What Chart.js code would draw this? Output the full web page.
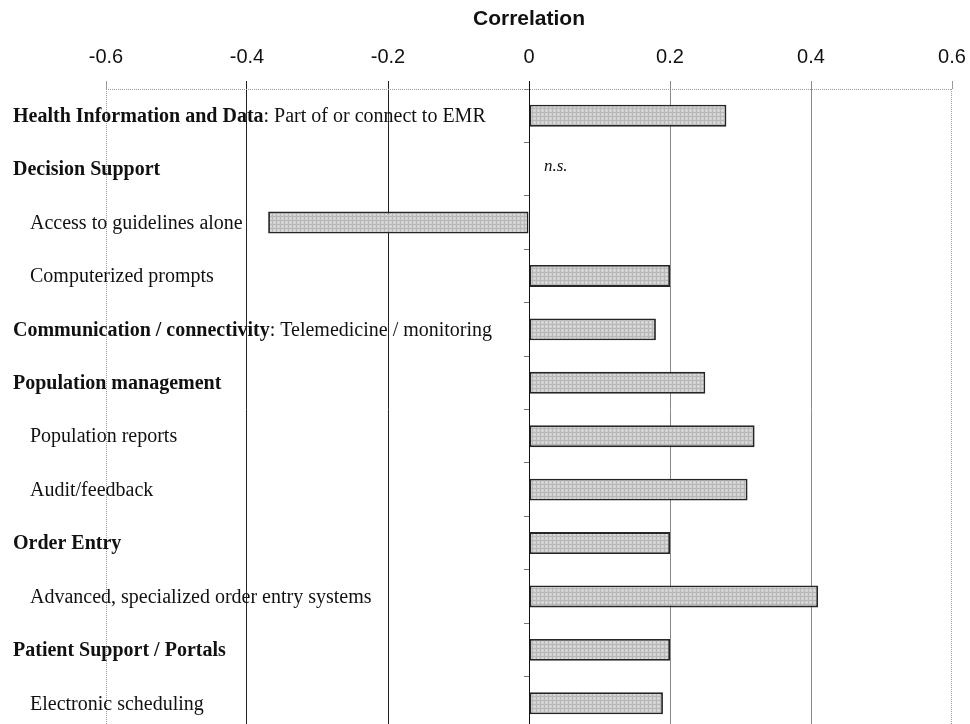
<!DOCTYPE html>
<html><head><meta charset="utf-8">
<script src="https://cdn.jsdelivr.net/npm/chart.js@4.4.1/dist/chart.umd.min.js"></script>
<style>
html,body{margin:0;padding:0;background:#fff;overflow:hidden;}
#wrap{position:relative;width:970px;height:740px;}
</style></head><body>
<div id="wrap"><canvas id="c"></canvas></div>
<script>
// ---- data ----
const categories = [
  'Health Information and Data',
  'Decision Support',
  'Access to guidelines alone',
  'Computerized prompts',
  'Communication / connectivity',
  'Population management',
  'Population reports',
  'Audit/feedback',
  'Order Entry',
  'Advanced, specialized order entry systems',
  'Patient Support / Portals',
  'Electronic scheduling'
];
const categorySuffix = [': Part of or connect to EMR', '', '', '', ': Telemedicine / monitoring', '', '', '', '', '', '', ''];
const categoryLevel = [0, 0, 1, 1, 0, 0, 1, 1, 0, 1, 0, 1];
const correlations = [0.28, null, -0.37, 0.20, 0.18, 0.25, 0.32, 0.31, 0.20, 0.41, 0.20, 0.19];
const notes = ['', 'n.s.', '', '', '', '', '', '', '', '', '', ''];
const xTickValues = [-0.6, -0.4, -0.2, 0, 0.2, 0.4, 0.6];
const xTickLabels = ['-0.6', '-0.4', '-0.2', '0', '0.2', '0.4', '0.6'];
const axisTitle = 'Correlation';

// ---- pattern fill ----
function makePattern() {
  const p = document.createElement('canvas');
  p.width = 4; p.height = 4;
  const g = p.getContext('2d');
  g.fillStyle = '#d0d0d0'; g.fillRect(0, 0, 4, 4);
  g.fillStyle = '#b8b8b8'; g.fillRect(0, 0, 1, 4); g.fillRect(0, 0, 4, 1);
  g.fillStyle = '#e8e8e8'; g.fillRect(2, 2, 1, 1);
  return g.createPattern(p, 'repeat');
}

function tickLabel(v) {
  for (let i = 0; i < xTickValues.length; i++) {
    if (Math.abs(xTickValues[i] - v) < 1e-6) return xTickLabels[i];
  }
  return '';
}
function gridCol(v) {
  if (Math.abs(Math.abs(v) - 0.6) < 1e-6) return 'rgba(0,0,0,0)';
  if (Math.abs(v) < 1e-6) return '#111';
  if (v < 0) return '#222';
  return '#8a8a8a';
}

const SERIF = '"Liberation Serif", "Times New Roman", serif';

const framePlugin = {
  id: 'frame',
  beforeDatasetsDraw(chart) {
    const ctx = chart.ctx, a = chart.chartArea;
    ctx.save();
    ctx.strokeStyle = '#9a9a9a';
    ctx.lineWidth = 1;
    ctx.setLineDash([1, 1]);
    ctx.beginPath();
    ctx.moveTo(a.left, a.top + 0.5); ctx.lineTo(a.right, a.top + 0.5);
    ctx.moveTo(a.left + 0.5, a.top); ctx.lineTo(a.left + 0.5, a.bottom);
    ctx.moveTo(a.right - 0.5, a.top); ctx.lineTo(a.right - 0.5, a.bottom);
    ctx.stroke();
    ctx.restore();
  }
};

const labelPlugin = {
  id: 'catLabels',
  afterDatasetsDraw(chart) {
    const ctx = chart.ctx, ys = chart.scales.y, xs = chart.scales.x;
    ctx.save();
    ctx.textBaseline = 'middle';
    ctx.textAlign = 'left';
    ctx.fillStyle = '#111';
    categories.forEach((c, i) => {
      const py = ys.getPixelForValue(i) + 1;
      let px = categoryLevel[i] ? 30 : 13;
      ctx.font = (categoryLevel[i] ? '' : 'bold ') + '20px ' + SERIF;
      ctx.fillText(c, px, py);
      if (categorySuffix[i]) {
        px += ctx.measureText(c).width;
        ctx.font = '20px ' + SERIF;
        ctx.fillText(categorySuffix[i], px, py);
      }
      if (notes[i]) {
        ctx.font = 'italic 17px ' + SERIF;
        ctx.fillText(notes[i], xs.getPixelForValue(0) + 15, py - 4);
      }
    });
    ctx.restore();
  }
};

new Chart(document.getElementById('c'), {
  type: 'bar',
  data: {
    labels: categories.map((c, i) => c + categorySuffix[i]),
    datasets: [{
      data: correlations,
      backgroundColor: makePattern(),
      borderColor: '#262626',
      borderWidth: 1.8,
      borderSkipped: false,
      barPercentage: 0.41,
      categoryPercentage: 1
    }]
  },
  options: {
    indexAxis: 'y',
    responsive: true,
    maintainAspectRatio: false,
    animation: false,
    layout: { padding: { left: 106, right: 18, top: 0, bottom: 10 } },
    plugins: { legend: { display: false }, tooltip: { enabled: false } },
    scales: {
      x: {
        type: 'linear',
        position: 'top',
        min: -0.6, max: 0.6,
        afterBuildTicks(scale) { scale.ticks = xTickValues.map(v => ({ value: v })); },
        afterFit(scale) { scale.height = 89; scale.paddingLeft = 0; scale.paddingRight = 0; },
        ticks: {
          callback: v => tickLabel(v),
          color: '#111',
          padding: 12,
          maxRotation: 0,
          font: { family: '"Liberation Sans", Arial, sans-serif', size: 20 }
        },
        grid: {
          color: ctx => gridCol(ctx.tick ? ctx.tick.value : 0),
          tickColor: ctx => {
            const v = ctx.tick ? ctx.tick.value : 0;
            return Math.abs(Math.abs(v) - 0.6) < 1e-6 ? '#9a9a9a' : gridCol(v);
          },
          lineWidth: 1,
          tickLength: 8,
          drawOnChartArea: true
        },
        border: { display: false },
        title: {
          display: true,
          text: axisTitle,
          color: '#111',
          padding: { top: 7, bottom: 0 },
          font: { family: '"Liberation Sans", Arial, sans-serif', size: 21, weight: 'bold' }
        }
      },
      y: {
        type: 'category',
        position: { x: 0 },
        ticks: { display: false },
        grid: {
          offset: true,
          drawOnChartArea: false,
          drawTicks: true,
          tickLength: 5,
          tickColor: '#777'
        },
        border: { display: true, color: '#111', width: 1 }
      }
    }
  },
  plugins: [framePlugin, labelPlugin]
});
</script>
</body></html>
